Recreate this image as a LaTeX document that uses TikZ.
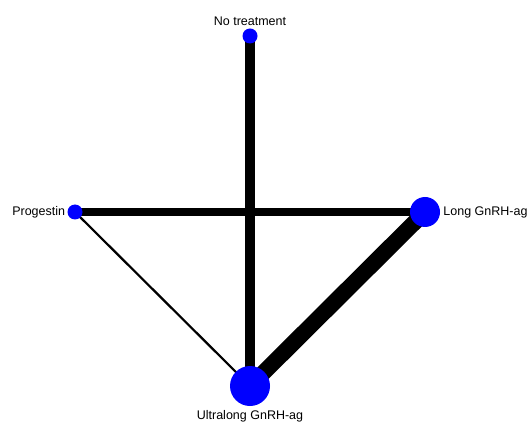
\documentclass[tikz,border=0pt]{standalone}
\usepackage{fontspec}
\setmainfont{Liberation Sans}
\usepackage{tikz}
\usetikzlibrary{positioning, backgrounds}
\tikzset{
  trt/.style   = {circle, fill=blue, draw=none, inner sep=0pt},
  lbl/.style   = {font=\fontsize{12.5}{15}\selectfont, inner sep=0pt},
  link/.style  = {line width=#1, draw=black},
}

\begin{document}
\begin{tikzpicture}[x=1pt, y=1pt]
  \useasboundingbox (0,0) rectangle (529,423);
  % treatments
  \node[trt, minimum size=15pt] (nt) at (250,387) {};
  \node[trt, minimum size=15pt] (pg) at (75,211)  {};
  \node[trt, minimum size=30pt] (lg) at (425,211) {};
  \node[trt, minimum size=40pt] (ul) at (250,37)  {};
  \node[lbl, above=2pt of nt] (ntl) {No treatment};
  \node[lbl, left=2pt of pg]  (pgl) {Progestin};
  \node[lbl, right=3pt of lg] (lgl) {Long GnRH-ag};
  \node[lbl, below=4pt of ul] (ull) {Ultralong GnRH-ag};
  % comparisons
  \begin{scope}[on background layer]
    \draw[link=10pt]  (nt.center) -- (ul.center);
    \draw[link=8pt]   (pg.center) -- (lg.center);
    \draw[link=16pt]  (lg.center) -- (ul.center);
    \draw[link=2.2pt] (pg.center) -- (ul.center);
  \end{scope}
\end{tikzpicture}
\end{document}
